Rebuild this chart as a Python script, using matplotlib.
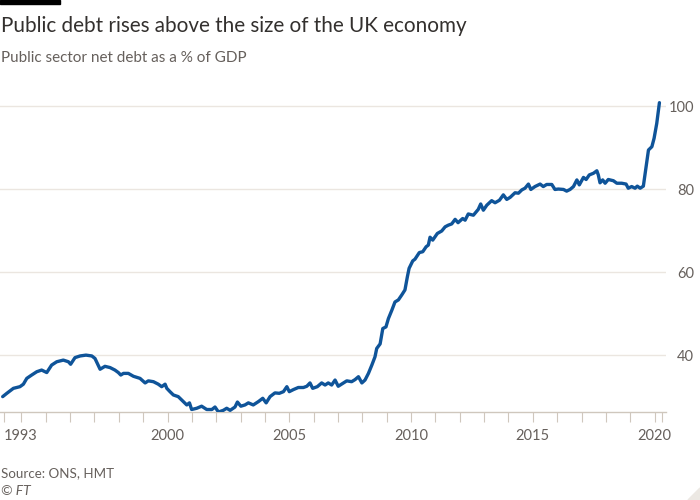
import matplotlib
matplotlib.use("Agg")
import matplotlib.pyplot as plt
from matplotlib.patches import Rectangle, Polygon

# ---- data (decimal year, % of GDP) ----
years = [
    1993.23, 1993.40, 1993.67, 1993.94, 1994.08, 1994.22, 1994.42, 1994.63, 1994.83,
    1995.04, 1995.24, 1995.45, 1995.72, 1995.93, 1996.02, 1996.20, 1996.41, 1996.65,
    1996.89, 1997.02, 1997.23, 1997.43, 1997.64, 1997.84, 1997.98, 1998.08, 1998.19,
    1998.39, 1998.60, 1998.87, 1999.08, 1999.21, 1999.42, 1999.62, 1999.76, 1999.90,
    1999.97, 2000.10, 2000.24, 2000.44, 2000.58, 2000.79, 2000.90, 2000.99, 2001.20,
    2001.40, 2001.61, 2001.82, 2001.95, 2002.09, 2002.29, 2002.43, 2002.57, 2002.77,
    2002.87, 2003.01, 2003.18, 2003.32, 2003.52, 2003.73, 2003.91, 2004.05, 2004.21,
    2004.41, 2004.59, 2004.76, 2004.90, 2005.00, 2005.17, 2005.37, 2005.58, 2005.72,
    2005.85, 2005.96, 2006.15, 2006.33, 2006.47, 2006.60, 2006.74, 2006.88, 2007.01,
    2007.20, 2007.36, 2007.56, 2007.70, 2007.84, 2007.98, 2008.11, 2008.25, 2008.39,
    2008.52, 2008.59, 2008.73, 2008.84, 2008.97, 2009.07, 2009.21, 2009.34, 2009.48,
    2009.62, 2009.75, 2009.85, 2009.92, 2010.07, 2010.16, 2010.34, 2010.48, 2010.62,
    2010.71, 2010.78, 2010.89, 2011.08, 2011.26, 2011.40, 2011.53, 2011.67, 2011.81,
    2011.93, 2012.12, 2012.22, 2012.35, 2012.56, 2012.76, 2012.86, 2012.97, 2013.11,
    2013.31, 2013.45, 2013.63, 2013.79, 2013.93, 2014.07, 2014.27, 2014.41, 2014.55,
    2014.68, 2014.82, 2014.92, 2015.09, 2015.30, 2015.43, 2015.57, 2015.78, 2015.91,
    2016.05, 2016.26, 2016.39, 2016.53, 2016.67, 2016.81, 2016.91, 2017.08, 2017.19,
    2017.32, 2017.49, 2017.63, 2017.69, 2017.76, 2017.87, 2017.97, 2018.10, 2018.31,
    2018.45, 2018.65, 2018.83, 2018.92, 2019.06, 2019.20, 2019.29, 2019.41, 2019.54,
    2019.75, 2019.89, 2019.98, 2020.09, 2020.20,
]
debt_pct_gdp = [
    30.0, 30.8, 32.0, 32.4, 33.0, 34.4, 35.2, 36.0, 36.4,
    35.8, 37.6, 38.4, 38.8, 38.4, 37.8, 39.4, 39.8, 40.0,
    39.8, 39.2, 36.6, 37.3, 37.0, 36.4, 35.8, 35.2, 35.6,
    35.6, 34.9, 34.4, 33.3, 33.8, 33.6, 33.0, 32.4, 33.0,
    32.0, 31.2, 30.4, 30.0, 29.2, 28.0, 28.5, 26.9, 27.2,
    27.7, 26.9, 26.9, 27.5, 26.3, 26.7, 27.2, 26.7, 27.5,
    28.7, 27.7, 28.0, 28.5, 28.0, 28.8, 29.6, 28.5, 30.0,
    30.9, 30.8, 31.2, 32.4, 31.2, 31.7, 32.2, 32.2, 32.5,
    33.3, 32.0, 32.4, 33.3, 32.8, 33.3, 32.8, 34.0, 32.5,
    33.2, 33.8, 33.6, 34.1, 34.8, 33.3, 34.0, 35.6, 37.6,
    39.6, 41.6, 42.7, 46.4, 46.8, 48.8, 50.8, 52.8, 53.3,
    54.5, 55.7, 58.9, 60.9, 62.7, 63.1, 64.7, 64.9, 66.1,
    66.5, 68.4, 67.7, 69.3, 69.9, 70.9, 71.3, 71.6, 72.7,
    71.9, 72.9, 72.5, 74.0, 73.7, 75.1, 76.4, 74.9, 76.1,
    77.2, 76.7, 77.3, 78.6, 77.5, 78.0, 79.1, 79.0, 79.8,
    80.2, 81.2, 79.9, 80.6, 81.2, 80.6, 81.1, 81.1, 79.9,
    80.0, 79.9, 79.5, 79.9, 80.6, 82.2, 81.0, 82.8, 82.3,
    83.4, 83.8, 84.4, 83.4, 81.5, 82.2, 81.4, 82.3, 82.0,
    81.4, 81.4, 81.2, 80.2, 80.6, 80.2, 80.7, 80.2, 80.7,
    89.4, 90.2, 92.2, 95.8, 100.8,
]
x_tick_pos = [1993.27, 2000, 2005, 2010, 2015, 2020]
x_tick_labels = ["1993", "2000", "2005", "2010", "2015", "2020"]
y_ticks = [40, 60, 80, 100]

BLUE = "#0f5499"
GRID = "#ebe6e0"
AXIS = "#cfc7bd"
TEXT = "#66605c"
FONT = "Lato"

plt.rcParams["font.family"] = [FONT, "DejaVu Sans"]

fig = plt.figure(figsize=(7, 5), dpi=100, facecolor="white")
ax = fig.add_axes([0, 88 / 500, 666 / 700, 314.3 / 500])
ax.set_facecolor("white")

ax.plot(years, debt_pct_gdp, color=BLUE, lw=2.4, solid_joinstyle="round",
        solid_capstyle="round", zorder=3)

ax.set_xlim(1993.12, 2020.47)
ax.set_ylim(26.3, 102)

for s in ["top", "left", "right"]:
    ax.spines[s].set_visible(False)
ax.spines["bottom"].set_color(AXIS)
ax.spines["bottom"].set_linewidth(1)

ax.set_xticks(x_tick_pos)
ax.set_xticklabels(x_tick_labels)
ax.set_xticks(list(range(1994, 2020)) + [2020.31], minor=True)
ax.tick_params(axis="x", which="both", length=7.5, width=0.8, color=AXIS,
               labelsize=10.5, labelcolor=TEXT, pad=5)
ax.get_xticklabels()[0].set_ha("left")

ax.yaxis.tick_right()
ax.set_yticks(y_ticks)
ax.set_yticklabels([str(v) for v in y_ticks])
ax.tick_params(axis="y", length=0, labelsize=10.5, labelcolor=TEXT, pad=20)
for lbl in ax.get_yticklabels():
    lbl.set_ha("right")
ax.grid(axis="y", color=GRID, lw=1, zorder=0)

# header and footer
fig.patches.append(Rectangle((0, 1 - 4 / 500), 60 / 700, 4 / 500,
                             transform=fig.transFigure, color="black"))
fig.text(0.001, 1 - 31.7 / 500, "Public debt rises above the size of the UK economy",
         fontsize=14.9, color="#33302e", va="baseline", ha="left")
fig.text(0.001, 1 - 62.3 / 500, "Public sector net debt as a % of GDP",
         fontsize=11, color=TEXT, va="baseline", ha="left")
fig.text(0.001, 1 - 477 / 500, "Source: ONS, HMT", fontsize=9.6, color=TEXT,
         va="baseline", ha="left")
fig.text(0.001, 1 - 495 / 500, "© FT", fontsize=10, color=TEXT, style="italic",
         va="baseline", ha="left")
fig.patches.append(Polygon([(1, 0), (1, 12 / 500), (1 - 12 / 700, 0)], closed=True,
                           transform=fig.transFigure, color="#ece8e3"))

fig.savefig("out.png", dpi=100, facecolor="white")
